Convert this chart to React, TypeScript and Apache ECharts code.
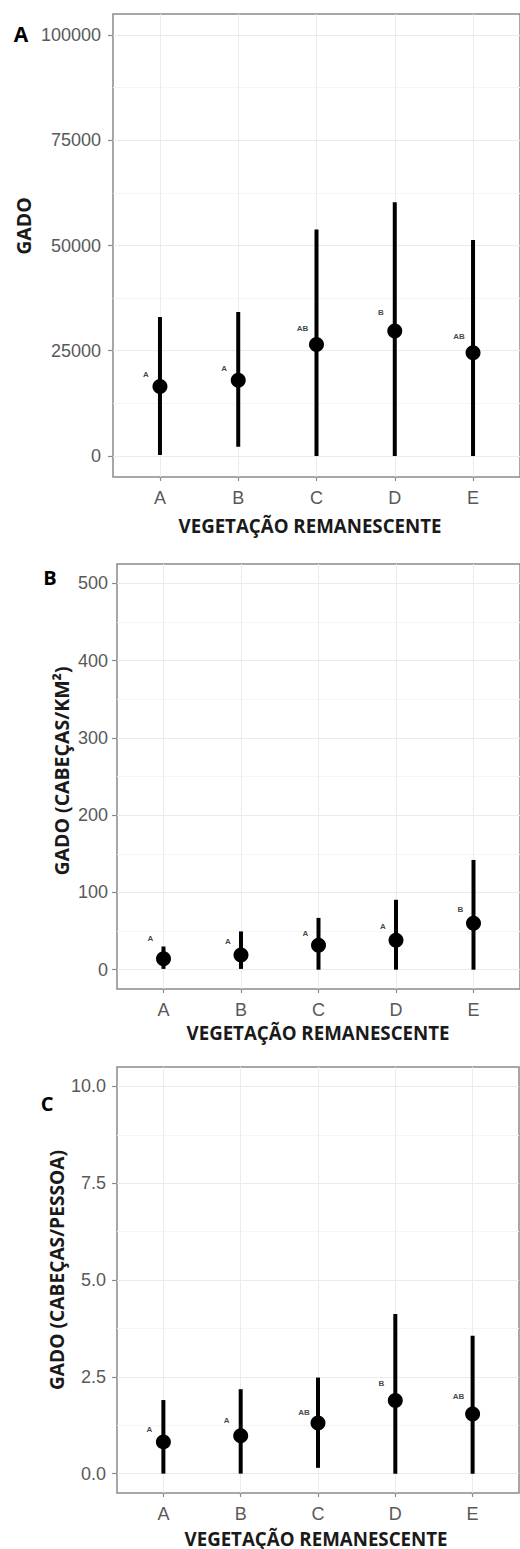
import React, { useEffect, useRef } from "react";
import * as echarts from "echarts";

const categories = ["A", "B", "C", "D", "E"];

// Panel A: GADO
const gadoMean = [16500, 18000, 26500, 29700, 24500];
const gadoLow = [200, 2200, 0, 0, 0];
const gadoHigh = [33000, 34200, 53800, 60300, 51300];
const gadoLetters = ["A", "A", "AB", "B", "AB"];
const gadoLetterY = [19400, 20800, 30300, 34100, 28400];
const gadoTicks = [0, 25000, 50000, 75000, 100000];
const gadoMinor = [12500, 37500, 62500, 87500];

// Panel B: GADO (CABEÇAS/KM²)
const kmMean = [14, 19, 31.5, 38, 60];
const kmLow = [1, 1, 0, 0, 0];
const kmHigh = [30, 49.5, 67, 90.5, 142];
const kmLetters = ["A", "A", "A", "A", "B"];
const kmLetterY = [40, 36, 46.5, 56, 77.5];
const kmTicks = [0, 100, 200, 300, 400, 500];
const kmMinor = [50, 150, 250, 350, 450];

// Panel C: GADO (CABEÇAS/PESSOA)
const pesMean = [0.82, 0.98, 1.31, 1.89, 1.54];
const pesLow = [0, 0, 0.15, 0, 0];
const pesHigh = [1.9, 2.18, 2.48, 4.12, 3.56];
const pesLetters = ["A", "A", "AB", "B", "AB"];
const pesLetterY = [1.13, 1.37, 1.59, 2.34, 1.99];
const pesTicks = [0, 2.5, 5, 7.5, 10];
const pesMinor = [1.25, 3.75, 6.25, 8.75];

const catPos = categories.map((_, i) => i + 1);
const TICK_COLOR = "#595959";
const GRID_MAJOR = "#ebebeb";
const GRID_MINOR = "#f5f5f5";
const BORDER = "#8a8a8a";

export default function App() {
  const ref = useRef<HTMLDivElement>(null);
  useEffect(() => {
    if (!ref.current) return;
    const chart = echarts.init(ref.current, null, { renderer: "svg" });

    const panels = [
      {
        grid: { left: 113, top: 14, width: 412, height: 463 },
        yMin: -5000, yMax: 105000, ticks: gadoTicks, minor: gadoMinor,
        mean: gadoMean, low: gadoLow, high: gadoHigh, letters: gadoLetters, letterY: gadoLetterY,
        fmt: (v: number) => String(v), labelMargin: 12, letterDx: -14,
      },
      {
        grid: { left: 117, top: 564, width: 408, height: 425 },
        yMin: -25, yMax: 525, ticks: kmTicks, minor: kmMinor,
        mean: kmMean, low: kmLow, high: kmHigh, letters: kmLetters, letterY: kmLetterY,
        fmt: (v: number) => String(v), labelMargin: 9, letterDx: -13,
      },
      {
        grid: { left: 117, top: 1067, width: 402, height: 426 },
        yMin: -0.5, yMax: 10.5, ticks: pesTicks, minor: pesMinor,
        mean: pesMean, low: pesLow, high: pesHigh, letters: pesLetters, letterY: pesLetterY,
        fmt: (v: number) => v.toFixed(1), labelMargin: 11, letterDx: -14,
      },
    ];

    const grids: any[] = [];
    const xAxes: any[] = [];
    const yAxes: any[] = [];
    const series: any[] = [];

    panels.forEach((p, gi) => {
      grids.push({
        ...p.grid,
        show: true,
        borderColor: BORDER,
        borderWidth: 1.5,
        backgroundColor: "#fff",
        containLabel: false,
      });
      xAxes.push({
        type: "value",
        gridIndex: gi,
        min: 0.4,
        max: 5.6,
        position: "bottom",
        axisLine: { show: false, onZero: false },
        axisTick: { show: true, customValues: catPos, length: 4, lineStyle: { color: BORDER, width: 1.2 } },
        axisLabel: {
          customValues: catPos,
          formatter: (v: number) => categories[Math.round(v) - 1] ?? "",
          color: TICK_COLOR,
          fontFamily: "Liberation Sans",
          fontSize: 18,
          margin: 12,
        },
        splitLine: { show: true, lineStyle: { color: GRID_MAJOR, width: 1 } },
      });
      yAxes.push({
        type: "value",
        gridIndex: gi,
        min: p.yMin,
        max: p.yMax,
        position: "left",
        axisLine: { show: false, onZero: false },
        axisTick: { show: true, customValues: p.ticks, length: 5, lineStyle: { color: BORDER, width: 1.2 } },
        axisLabel: {
          customValues: p.ticks,
          formatter: p.fmt,
          color: TICK_COLOR,
          fontFamily: "Liberation Sans",
          fontSize: 18,
          margin: p.labelMargin,
        },
        splitLine: { show: true, lineStyle: { color: GRID_MAJOR, width: 1 } },
        z: 1,
      });
      yAxes.push({
        type: "value",
        gridIndex: gi,
        min: p.yMin,
        max: p.yMax,
        position: "left",
        axisLine: { show: false, onZero: false },
        axisTick: { show: false, customValues: p.minor },
        axisLabel: { show: false, customValues: p.minor },
        splitLine: { show: true, lineStyle: { color: GRID_MINOR, width: 1 } },
        z: 0,
      });
      const yIdx = gi * 2;
      series.push({
        type: "custom",
        xAxisIndex: gi,
        yAxisIndex: yIdx,
        data: catPos.map((x, i) => [x, p.low[i], p.high[i]]),
        encode: { x: 0, y: [1, 2] },
        renderItem: (_params: any, api: any) => {
          const x = api.value(0);
          const a = api.coord([x, api.value(1)]);
          const b = api.coord([x, api.value(2)]);
          return {
            type: "line",
            shape: { x1: a[0], y1: a[1], x2: b[0], y2: b[1] },
            style: { stroke: "#000", lineWidth: 4 },
          };
        },
        z: 3,
      });
      series.push({
        type: "scatter",
        xAxisIndex: gi,
        yAxisIndex: yIdx,
        data: catPos.map((x, i) => [x, p.mean[i]]),
        symbol: "circle",
        symbolSize: 15,
        itemStyle: { color: "#000", opacity: 1 },
        z: 4,
      });
      series.push({
        type: "scatter",
        xAxisIndex: gi,
        yAxisIndex: yIdx,
        data: catPos.map((x, i) => ({ value: [x, p.letterY[i]], name: p.letters[i] })),
        symbolSize: 0,
        itemStyle: { color: "transparent" },
        label: {
          show: true,
          position: "inside",
          offset: [p.letterDx, 0],
          formatter: (d: any) => d.name,
          fontFamily: "Liberation Sans",
          fontWeight: "bold",
          fontSize: 8,
          color: "#111",
        },
        z: 5,
      });
    });

    const titleFont = { fontFamily: "Open Sans", fontWeight: "bold", fill: "#1a1a1a" };
    const center = { textAlign: "center", textVerticalAlign: "middle" };
    const graphic: any[] = [
      { type: "text", x: 21, y: 34, style: { ...titleFont, ...center, text: "A", fontSize: 21, fill: "#000" } },
      { type: "text", x: 50, y: 577, style: { ...titleFont, ...center, text: "B", fontSize: 20, fill: "#000" } },
      { type: "text", x: 47, y: 1103, style: { ...titleFont, ...center, text: "C", fontSize: 20, fill: "#000" } },
      { type: "text", x: 23, y: 226, rotation: Math.PI / 2, style: { ...titleFont, ...center, text: "GADO", fontSize: 19.5 } },
      { type: "text", x: 61, y: 771, rotation: Math.PI / 2, style: { ...titleFont, ...center, text: "GADO (CABEÇAS/KM²)", fontSize: 19.5 } },
      { type: "text", x: 56, y: 1270, rotation: Math.PI / 2, style: { ...titleFont, ...center, text: "GADO (CABEÇAS/PESSOA)", fontSize: 19.2 } },
      { type: "text", x: 310, y: 525, style: { ...titleFont, ...center, text: "VEGETAÇÃO REMANESCENTE", fontSize: 18.7 } },
      { type: "text", x: 318, y: 1032, style: { ...titleFont, ...center, text: "VEGETAÇÃO REMANESCENTE", fontSize: 18.7 } },
      { type: "text", x: 316, y: 1538, style: { ...titleFont, ...center, text: "VEGETAÇÃO REMANESCENTE", fontSize: 18.7 } },
    ];

    chart.setOption({
      animation: false,
      backgroundColor: "#fff",
      grid: grids,
      xAxis: xAxes,
      yAxis: yAxes,
      series,
      graphic,
    });
    return () => chart.dispose();
  }, []);

  return (
    <div
      ref={ref}
      style={{ position: "absolute", left: 0, top: 0, width: 520, height: 1549 }}
    />
  );
}
